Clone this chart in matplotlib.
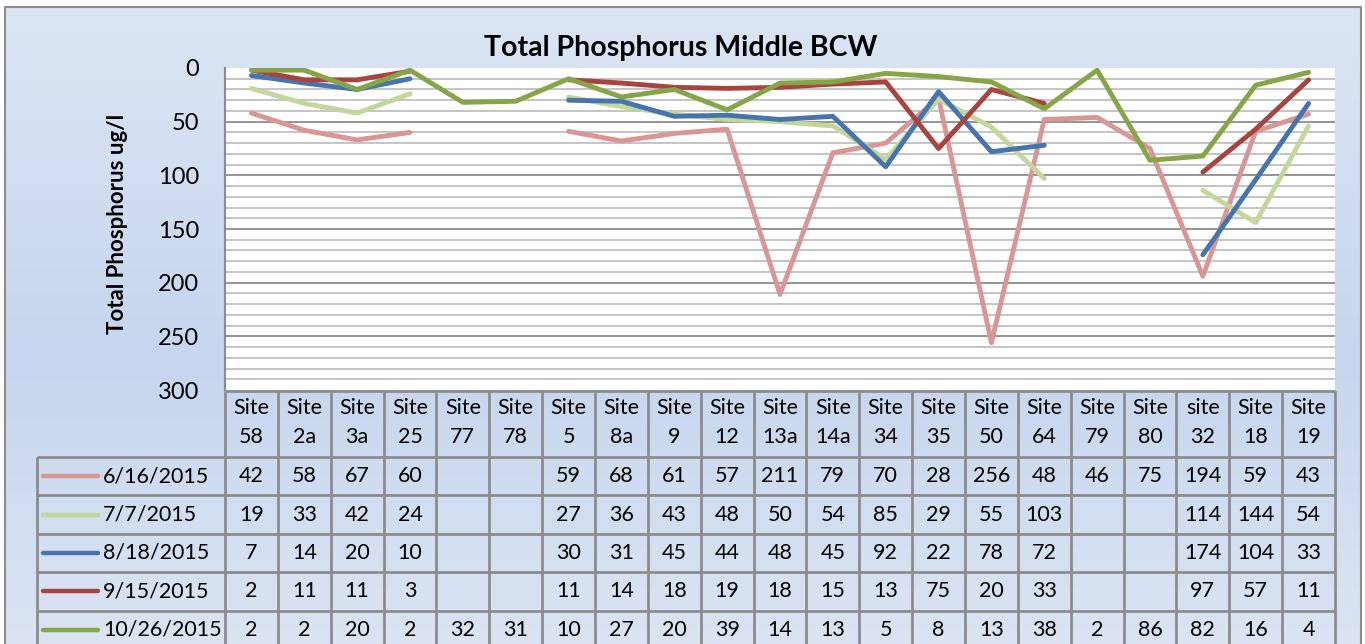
import numpy as np
import matplotlib.pyplot as plt
from matplotlib.colors import LinearSegmentedColormap

plt.rcParams['font.family'] = ['Lato', 'DejaVu Sans']

sites = ["Site 58", "Site 2a", "Site 3a", "Site 25", "Site 77", "Site 78", "Site 5",
         "Site 8a", "Site 9", "Site 12", "Site 13a", "Site 14a", "Site 34", "Site 35",
         "Site 50", "Site 64", "Site 79", "Site 80", "site 32", "Site 18", "Site 19"]
dates = ["6/16/2015", "7/7/2015", "8/18/2015", "9/15/2015", "10/26/2015"]
n = None
tp_0616 = [42, 58, 67, 60, n, n, 59, 68, 61, 57, 211, 79, 70, 28, 256, 48, 46, 75, 194, 59, 43]
tp_0707 = [19, 33, 42, 24, n, n, 27, 36, 43, 48, 50, 54, 85, 29, 55, 103, n, n, 114, 144, 54]
tp_0818 = [7, 14, 20, 10, n, n, 30, 31, 45, 44, 48, 45, 92, 22, 78, 72, n, n, 174, 104, 33]
tp_0915 = [2, 11, 11, 3, n, n, 11, 14, 18, 19, 18, 15, 13, 75, 20, 33, n, n, 97, 57, 11]
tp_1026 = [2, 2, 20, 2, 32, 31, 10, 27, 20, 39, 14, 13, 5, 8, 13, 38, 2, 86, 82, 16, 4]
series = [tp_0616, tp_0707, tp_0818, tp_0915, tp_1026]
colors = ["#D99694", "#C3D69B", "#4674AE", "#A9433F", "#85A546"]

W, H = 1365, 644
fig = plt.figure(figsize=(W / 100, H / 100), dpi=100)

# background panel with gradient + frame
bg = fig.add_axes([0, 0, 1, 1])
bg.set_xlim(0, W)
bg.set_ylim(H, 0)
bg.axis('off')
cmap = LinearSegmentedColormap.from_list(
    "bgc", [(0, "#DCE5F4"), (0.55, "#C6D6EE"), (1, "#DCE4F3")])
grad = np.linspace(0, 1, 256).reshape(-1, 1)
bg.imshow(grad, cmap=cmap, aspect='auto', extent=[5, 1361, 650, 7], zorder=0)
bg.plot([5, 5, 1361, 1361], [650, 7, 7, 650], color="#8C8C8C", lw=1.5, zorder=1)

# line chart
x0, x1, ytop, ybot = 225, 1335, 68, 390
ax = fig.add_axes([x0 / W, 1 - ybot / H, (x1 - x0) / W, (ybot - ytop) / H])
ax.set_facecolor("white")
x = np.arange(len(sites))
for vals, c in zip(series, colors):
    y = np.array([np.nan if v is None else v for v in vals], dtype=float)
    ax.plot(x, y, color=c, lw=3.5, solid_capstyle='round', solid_joinstyle='round',
            zorder=3)
ax.set_xlim(-0.5, len(sites) - 0.5)
ax.set_ylim(300, 0)
ax.set_yticks(np.arange(0, 301, 50))
for v in range(10, 300, 10):
    ax.axhline(v, color="#8C8C8C" if v % 50 == 0 else "#C0C0C0", lw=1.3, zorder=1)
ax.set_xticks([])
for s in ["top", "right", "bottom"]:
    ax.spines[s].set_visible(False)
ax.spines["left"].set_color("#8C8C8C")
ax.spines["left"].set_linewidth(1.5)
ax.tick_params(axis='y', length=0, labelsize=17, pad=18.5)
fig.text(117 / W, 1 - 224 / H, "Total Phosphorus ug/l", fontsize=16,
         fontweight='bold', rotation=90, ha='center', va='center')
fig.text(681 / W, 1 - 48 / H, "Total Phosphorus Middle BCW", fontsize=20.5,
         fontweight='bold', ha='center', va='center')

# data table
colw = (x1 - x0) / len(sites)
tab = fig.add_axes([0, 0, x1 / W, 1 - 391 / H])
tab.set_xlim(-0.5 - x0 / colw, len(sites) - 0.5)
tab.set_ylim(H, 391)
tab.axis('off')
leg_left = -0.5 - (x0 - 37) / colw
head_top, head_bot, rowh = 391, 457, 38.4
gc = "#8C8C8C"
tab.hlines(head_top, -0.5, len(sites) - 0.5, color=gc, lw=2, clip_on=False)
for r in range(len(dates) + 1):
    tab.hlines(head_bot + r * rowh, leg_left, len(sites) - 0.5, color=gc, lw=2,
               clip_on=False)
for i in range(len(sites) + 1):
    tab.vlines(i - 0.5, head_top, H + 10, color=gc, lw=2, clip_on=False)
tab.vlines(leg_left, head_bot, H + 10, color=gc, lw=2, clip_on=False)

for i, s in enumerate(sites):
    a, b = s.split(" ")
    tab.text(i, 408, a, ha='center', va='center', fontsize=15.5)
    tab.text(i, 437, b, ha='center', va='center', fontsize=15.5)

for r, (d, vals, c) in enumerate(zip(dates, series, colors)):
    yc = head_bot + (r + 0.5) * rowh
    tab.plot([leg_left + 6 / colw, leg_left + 61 / colw], [yc, yc], color=c, lw=3.2,
             solid_capstyle='round', clip_on=False)
    tab.text(leg_left + 66 / colw, yc, d, ha='left', va='center', fontsize=15.5)
    for i, v in enumerate(vals):
        if v is not None:
            tab.text(i, yc, str(v), ha='center', va='center', fontsize=15.5)

fig.savefig("out.png", dpi=100)
